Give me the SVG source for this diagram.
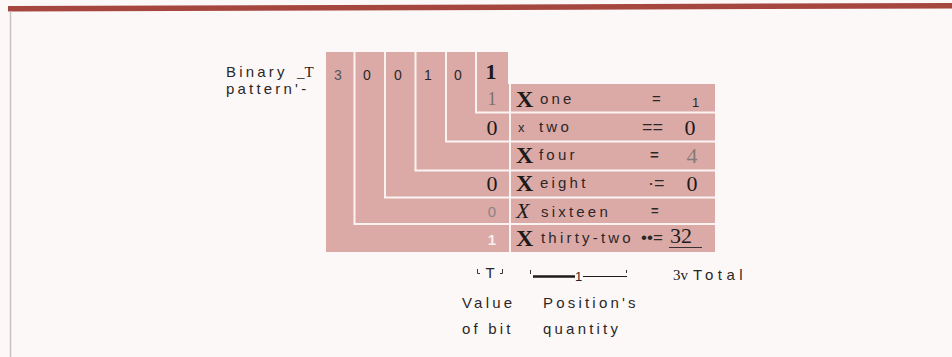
<svg xmlns="http://www.w3.org/2000/svg" width="952" height="357" viewBox="0 0 952 357">
<style>
.sans{font-family:"Liberation Sans",Arial,sans-serif;fill:#2b2727}
.lbl{font-size:15px;letter-spacing:3.2px}
.serif{font-family:"Liberation Serif","Times New Roman",serif;fill:#1e1a1a}
.bx{font-size:24px;font-weight:bold}
.val{font-size:22px}
.sep{fill:none;stroke:#fbf3f1;stroke-width:2}
.tick{fill:none;stroke:#3a3535;stroke-width:1}
</style>
<rect x="0" y="0" width="952" height="357" fill="#fdf8f8"/>
<polygon points="8,6 952,3 952,8.5 8,11.5" fill="#a5463f"/>
<line x1="10.5" y1="11" x2="10.5" y2="357" stroke="#c9bfbf" stroke-width="1.5"/>

<g id="grid">
<path d="M326,52 H508 V84 H715 V252 H326 Z" fill="#dbaaa7"/>
<path class="sep" d="M354.5,52 V224 H715"/>
<path class="sep" d="M385,52 V197.5 H715"/>
<path class="sep" d="M415.5,52 V170.5 H715"/>
<path class="sep" d="M446,52 V141.5 H715"/>
<path class="sep" d="M476,52 V112.5 H715"/>
<path class="sep" d="M510,84 V252"/>
</g>

<g id="binary-label">
<text class="sans lbl" x="226" y="77">Binary</text>
<text class="serif" x="297" y="77" font-size="15">_T</text>
<text class="sans lbl" x="226" y="94">pattern'-</text>
</g>

<g id="bits" font-size="14" text-anchor="middle">
<text class="sans" x="338" y="80" style="fill:#555">3</text>
<text class="sans" x="367" y="80">0</text>
<text class="sans" x="398" y="80">0</text>
<text class="sans" x="428" y="80">1</text>
<text class="sans" x="458" y="80">0</text>
<text class="serif" x="491" y="79" font-size="22" font-weight="bold">1</text>
</g>

<g id="row-one">
<text class="serif" x="492" y="105" font-size="18" text-anchor="middle" style="fill:#7a7070">1</text>
<text class="serif bx" x="516" y="107">X</text>
<text class="sans lbl" x="540" y="104">one</text>
<text class="sans" x="652" y="104" font-size="15">=</text>
<text class="sans" x="692" y="107" font-size="13">1</text>
</g>

<g id="row-two">
<text class="serif val" x="492" y="134.5" text-anchor="middle">0</text>
<text class="sans" x="518" y="132" font-size="13">x</text>
<text class="sans lbl" x="539" y="132">two</text>
<text class="sans" x="642" y="133" font-size="18">==</text>
<text class="serif val" x="690" y="134.5" text-anchor="middle">0</text>
</g>

<g id="row-four">
<text class="serif bx" x="516" y="163">X</text>
<text class="sans lbl" x="539" y="160">four</text>
<text class="sans" x="650" y="160" font-size="15" font-weight="bold">=</text>
<text class="serif val" x="692" y="162.5" text-anchor="middle" style="fill:#857a7a">4</text>
</g>

<g id="row-eight">
<text class="serif val" x="492" y="190.5" text-anchor="middle">0</text>
<text class="serif bx" x="516" y="191">X</text>
<text class="sans lbl" x="540" y="188">eight</text>
<text class="sans" x="648" y="189" font-size="18">·=</text>
<text class="serif val" x="692" y="190.5" text-anchor="middle">0</text>
</g>

<g id="row-sixteen">
<text class="sans" x="492" y="217" font-size="15" text-anchor="middle" style="fill:#8d8282">0</text>
<text class="serif" x="516" y="218" font-size="22" font-style="italic">X</text>
<text class="sans lbl" x="541" y="217">sixteen</text>
<text class="sans" x="651" y="215" font-size="13" font-weight="bold">=</text>
</g>

<g id="row-thirty-two">
<text class="sans" x="492" y="245" font-size="15" font-weight="bold" text-anchor="middle" style="fill:#f6efee">1</text>
<text class="serif bx" x="516" y="246">X</text>
<text class="sans lbl" x="541" y="243">thirty-two</text>
<text class="sans" x="641" y="243" font-size="17">••=</text>
<text class="serif val" x="670" y="243">32</text>
<line x1="669" y1="247.5" x2="702" y2="247.5" stroke="#3a3232" stroke-width="1.2"/>
</g>

<g id="annotations">
<path class="tick" d="M477.5,269 V273.5 H480"/>
<text class="sans" x="490" y="278" font-size="15" text-anchor="middle">T</text>
<path class="tick" d="M502.5,269 V273.5 H500"/>
<path class="tick" d="M530.5,270 V274"/>
<line x1="533" y1="276.5" x2="575" y2="276.5" stroke="#1e1a1a" stroke-width="2.5"/>
<text class="sans" x="578.5" y="281" font-size="13" text-anchor="middle">1</text>
<line x1="583" y1="276.5" x2="627" y2="276.5" stroke="#1e1a1a" stroke-width="1"/>
<path class="tick" d="M626.5,270 V273"/>
<text class="serif" x="673" y="280" font-size="15">3v</text>
<text class="sans lbl" x="693" y="280" style="letter-spacing:4.5px">Total</text>
<text class="sans lbl" x="462" y="308">Value</text>
<text class="sans lbl" x="462" y="334">of bit</text>
<text class="sans lbl" x="543" y="308">Position's</text>
<text class="sans lbl" x="543" y="334">quantity</text>
</g>
</svg>
